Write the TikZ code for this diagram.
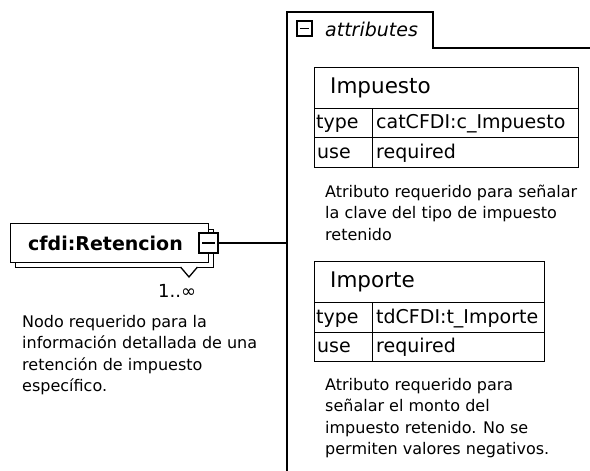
\documentclass[tikz,border=0pt]{standalone}
\usepackage{fontspec}
\setmainfont{DejaVu Sans}
\begin{document}
\begin{tikzpicture}[x=1pt,y=-1pt,
  line/.style={draw=black, line width=1.3pt},
  box/.style={draw=black, line width=1.3pt, fill=white, inner sep=0pt, anchor=north west},
  minusbox/.style={draw=black, line width=1.2pt, fill=white, inner sep=0pt,
    minimum width=#1, minimum height=#1,
    path picture={\draw[line width=1.2pt]
      ([xshift=3pt]path picture bounding box.west) --
      ([xshift=-3pt]path picture bounding box.east);}},
  celltxt/.style={anchor=west, inner sep=0pt, text height=14pt, text depth=4.5pt,
    font=\fontsize{19}{22}\selectfont},
  headtxt/.style={anchor=west, inner sep=0pt, text height=16pt, text depth=4.5pt,
    font=\fontsize{21.5}{24}\selectfont},
  desc/.style={anchor=base west, inner sep=0pt, align=left,
    font=\fontsize{16}{21.5}\selectfont}]
\useasboundingbox[fill=white] (0,0) rectangle (590,471);

% attributes panel
\draw[line] (287,471) -- (287,12) -- (433,12) -- (433,48) -- (590,48);
\coordinate (panelL) at (287,243);
\node[minusbox=15pt] (tabminus) at (304.5,28.5) {};
\node[anchor=base west, inner sep=0pt, font=\itshape\fontsize{19}{22}\selectfont]
  (attr) at (325,37) {attributes};

% element cfdi:Retencion
\node[box, minimum width=198pt, minimum height=38pt] (retback) at (15,229) {};
\node[box, minimum width=198pt, minimum height=39pt] (ret) at (10,223) {};
\node[anchor=base west, inner sep=0pt, font=\bfseries\fontsize{19}{22}\selectfont]
  (rettxt) at (28,250) {cfdi:Retencion};
\node[minusbox=19pt, minimum height=20pt] (retminus) at (208.5,243) {};
\draw[line] (retminus.east) -- (panelL);
\draw[line, fill=white, line join=miter] (180.5,267) -- (189,277) -- (197.5,267);
\node[anchor=base west, inner sep=0pt, font=\fontsize{18}{20}\selectfont]
  (mult) at (158,297) {1..∞};
% base anchor of a multi-line node is the baseline of its last line
\node[desc] (retdesc) at (22,391.5) {Nodo requerido para la\\información detallada de una\\retención de impuesto\\específico.};

% Impuesto
\node[box, minimum width=264pt, minimum height=41pt] (imph) at (314,67) {};
\node[box, minimum width=58pt, minimum height=29pt] (impt) at (314,108) {};
\node[box, minimum width=206pt, minimum height=29pt] (imptv) at (372,108) {};
\node[box, minimum width=58pt, minimum height=30pt] (impu) at (314,137) {};
\node[box, minimum width=206pt, minimum height=30pt] (impuv) at (372,137) {};
\node[headtxt] at ([xshift=16pt]imph.west) {Impuesto};
\node[celltxt] at ([xshift=2pt,yshift=-1pt]impt.west) {type};
\node[celltxt] at ([xshift=4pt,yshift=-1pt]imptv.west) {catCFDI:c\_Impuesto};
\node[celltxt] at ([xshift=3pt,yshift=-1pt]impu.west) {use};
\node[celltxt] at ([xshift=4pt,yshift=-1pt]impuv.west) {required};
\node[desc] (impdesc) at (325,240) {Atributo requerido para señalar\\la clave del tipo de impuesto\\retenido};

% Importe
\node[box, minimum width=230pt, minimum height=41pt] (imoh) at (314,261) {};
\node[box, minimum width=58pt, minimum height=30pt] (imot) at (314,302) {};
\node[box, minimum width=172pt, minimum height=30pt] (imotv) at (372,302) {};
\node[box, minimum width=58pt, minimum height=29pt] (imou) at (314,332) {};
\node[box, minimum width=172pt, minimum height=29pt] (imouv) at (372,332) {};
\node[headtxt] at ([xshift=16pt]imoh.west) {Importe};
\node[celltxt] at ([xshift=2pt,yshift=-1pt]imot.west) {type};
\node[celltxt] at ([xshift=4pt,yshift=-1pt]imotv.west) {tdCFDI:t\_Importe};
\node[celltxt] at ([xshift=3pt,yshift=-1pt]imou.west) {use};
\node[celltxt] at ([xshift=4pt,yshift=-1pt]imouv.west) {required};
\node[desc] (imodesc) at (325,454.5) {Atributo requerido para\\señalar el monto del\\impuesto retenido. No se\\permiten valores negativos.};
\end{tikzpicture}
\end{document}
